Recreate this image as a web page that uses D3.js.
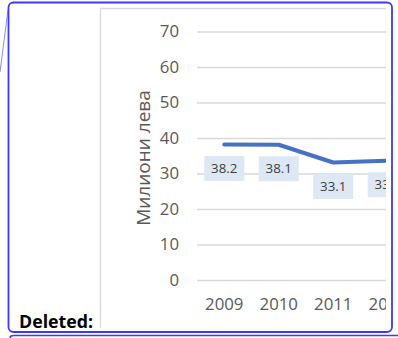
<!DOCTYPE html>
<html>
<head>
<meta charset="utf-8">
<script src="https://cdn.jsdelivr.net/npm/d3@7"></script>
<style>
  body { margin: 0; background: #fff; }
  svg { display: block; }
</style>
</head>
<body>
<svg width="398" height="338"></svg>
<script>
// values
var years = ["2009", "2010", "2011", "2012"];
var values = [38.2, 38.1, 33.1, 33.6];
var yTicks = [0, 10, 20, 30, 40, 50, 60, 70];
var yTitle = "Милиони лева";
var sideNote = "Deleted:";

var svg = d3.select("svg");

// word page frame around the chart
svg.append("line")
    .attr("x1", 8).attr("y1", 10).attr("x2", 0).attr("y2", 72)
    .attr("stroke", "#8a8aff").attr("stroke-width", 1);

svg.append("rect")
    .attr("x", 8.5).attr("y", 2.5)
    .attr("width", 383.5).attr("height", 329.5)
    .attr("rx", 5)
    .attr("fill", "none")
    .attr("stroke", "#3a3aff").attr("stroke-width", 1.8);

svg.append("path")
    .attr("d", "M10,338 Q10,335.5 14,335.5 L398,335.5")
    .attr("fill", "none")
    .attr("stroke", "#3a3aff").attr("stroke-width", 1.6);

svg.append("text")
    .attr("x", 19).attr("y", 328)
    .attr("font-family", "Open Sans")
    .attr("font-weight", "bold")
    .attr("font-size", 17.8)
    .attr("fill", "#000")
    .text(sideNote);

// chart, clipped on the right like the page
svg.append("clipPath").attr("id", "clip")
    .append("rect").attr("x", 99).attr("y", 0).attr("width", 287).attr("height", 330);

var chart = svg.append("g").attr("clip-path", "url(#clip)");

chart.append("path")
    .attr("d", "M100.5,328 L100.5,8.5 L400,8.5")
    .attr("fill", "none")
    .attr("stroke", "#d9d9d9").attr("stroke-width", 1.3);

var x = d3.scaleBand()
    .domain(years)
    .range([197, 197 + 54.5 * years.length]);

var y = d3.scaleLinear()
    .domain([0, 70])
    .range([280, 31.5]);

var yAxis = chart.append("g")
    .attr("transform", "translate(197,0)")
    .call(d3.axisLeft(y).tickValues(yTicks).tickSize(-220).tickPadding(18));
yAxis.select(".domain").remove();
yAxis.selectAll("line").attr("stroke", "#d9d9d9").attr("stroke-width", 1.3);
yAxis.selectAll("text")
    .attr("font-family", "Open Sans").attr("font-size", 16.8).attr("fill", "#595959");

var xAxis = chart.append("g")
    .attr("transform", "translate(0,280)")
    .call(d3.axisBottom(x).tickSize(0).tickPadding(18.3));
xAxis.select(".domain").remove();
xAxis.selectAll("text")
    .attr("font-family", "Open Sans").attr("font-size", 16.8).attr("fill", "#595959");

chart.append("text")
    .attr("transform", "translate(150,158) rotate(-90)")
    .attr("text-anchor", "middle")
    .attr("font-family", "Open Sans")
    .attr("font-size", 19)
    .attr("fill", "#595959")
    .text(yTitle);

var pts = years.map(function (d, i) { return { year: d, value: values[i] }; });

var line = d3.line()
    .x(function (d) { return x(d.year) + x.bandwidth() / 2; })
    .y(function (d) { return y(d.value); });

chart.append("path")
    .datum(pts)
    .attr("d", line)
    .attr("fill", "none")
    .attr("stroke", "#4472c4")
    .attr("stroke-width", 4)
    .attr("stroke-linecap", "round")
    .attr("stroke-linejoin", "round");

var labels = chart.selectAll(".lbl")
    .data(pts)
    .enter().append("g")
    .attr("class", "lbl")
    .attr("transform", function (d) {
        return "translate(" + (x(d.year) + x.bandwidth() / 2) + "," + (y(d.value) + 24) + ")";
    });

labels.append("rect")
    .attr("x", -20).attr("y", -12.5)
    .attr("width", 40).attr("height", 25)
    .attr("fill", "#dde8f4");

labels.append("text")
    .attr("text-anchor", "middle")
    .attr("dy", "0.35em")
    .attr("font-family", "Open Sans")
    .attr("font-size", 13.3)
    .attr("fill", "#404040")
    .text(function (d) { return d.value.toFixed(1); });
</script>
</body>
</html>
